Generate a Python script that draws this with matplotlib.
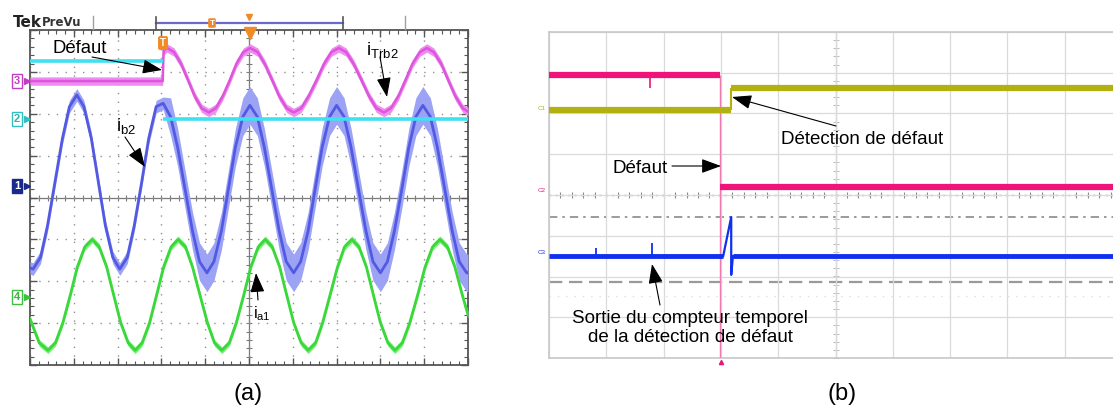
import matplotlib
matplotlib.use('Agg')
import matplotlib.pyplot as plt
import numpy as np

plt.rcParams['font.family'] = ['Liberation Sans', 'DejaVu Sans']
plt.rcParams['mathtext.fontset'] = 'custom'
plt.rcParams['mathtext.rm'] = 'Liberation Sans'

W, H, DPI = 1113, 412, 100

# ---------------- Panel (a) data (oscilloscope divisions) ----------------
fault_a = 3.04
cyan_levels = [3.26, 1.87]          # before / after fault

mag_x = [0.0, 3.03, 3.05, 3.13, 3.29, 3.45, 3.61, 3.76, 3.92, 4.08, 4.24, 4.40, 4.56, 4.71,
         4.87, 5.03, 5.20, 5.36, 5.53, 5.69, 5.86, 6.02, 6.19, 6.36, 6.54, 6.71, 6.88, 7.05,
         7.22, 7.39, 7.57, 7.74, 7.91, 8.08, 8.24, 8.41, 8.57, 8.73, 8.90, 9.06, 9.22, 9.39,
         9.55, 9.71, 9.88, 10.0]
mag_y = [2.78, 2.78, 3.50, 3.57, 3.47, 3.19, 2.80, 2.42, 2.13, 2.03, 2.13, 2.42, 2.80, 3.19,
         3.47, 3.57, 3.47, 3.19, 2.80, 2.42, 2.13, 2.03, 2.13, 2.42, 2.80, 3.19, 3.47, 3.57,
         3.47, 3.19, 2.80, 2.42, 2.13, 2.03, 2.13, 2.42, 2.80, 3.19, 3.47, 3.57, 3.47, 3.19,
         2.80, 2.42, 2.13, 2.05]

blue_x = [0.0, 0.07, 0.24, 0.40, 0.57, 0.74, 0.90, 1.07, 1.23, 1.40, 1.56, 1.72, 1.89, 2.05,
          2.22, 2.38, 2.55, 2.71, 2.88, 3.04, 3.21, 3.37, 3.54, 3.71, 3.87, 4.04, 4.20, 4.37,
          4.53, 4.69, 4.86, 5.02, 5.19, 5.35, 5.52, 5.69, 5.85, 6.02, 6.18, 6.35, 6.51, 6.67,
          6.84, 7.00, 7.17, 7.33, 7.50, 7.67, 7.83, 8.00, 8.16, 8.32, 8.49, 8.65, 8.81, 8.97,
          9.14, 9.30, 9.47, 9.64, 9.80, 9.97, 10.0]
blue_y = [-1.68, -1.71, -1.43, -0.67, 0.37, 1.41, 2.17, 2.45, 2.17, 1.41, 0.37, -0.67, -1.43, -1.71,
          -1.43, -0.67, 0.37, 1.41, 2.17, 2.25, 1.93, 1.20, 0.20, -0.80, -1.53, -1.80, -1.53, -0.80,
          0.20, 1.20, 1.93, 2.20, 1.93, 1.20, 0.20, -0.80, -1.53, -1.80, -1.53, -0.80, 0.20, 1.20,
          1.93, 2.20, 1.93, 1.20, 0.20, -0.80, -1.53, -1.80, -1.53, -0.80, 0.20, 1.20, 1.93, 2.20,
          1.93, 1.20, 0.20, -0.80, -1.53, -1.80, -1.80]

green_x = [0.0, 0.21, 0.41, 0.58, 0.75, 0.92, 1.08, 1.25, 1.42, 1.58, 1.75, 1.91, 2.07, 2.24,
           2.40, 2.56, 2.73, 2.89, 3.05, 3.22, 3.38, 3.55, 3.71, 3.88, 4.05, 4.21, 4.38, 4.55,
           4.71, 4.88, 5.04, 5.21, 5.37, 5.53, 5.70, 5.86, 6.02, 6.19, 6.35, 6.52, 6.68, 6.85,
           7.02, 7.18, 7.35, 7.51, 7.68, 7.84, 8.00, 8.17, 8.33, 8.50, 8.67, 8.85, 9.02, 9.19,
           9.36, 9.53, 9.70, 9.87, 10.0]
green_y = [-2.90, -3.47, -3.65, -3.47, -2.99, -2.33, -1.66, -1.18, -1.00, -1.18, -1.66, -2.33, -2.99, -3.47,
           -3.65, -3.47, -2.99, -2.33, -1.66, -1.18, -1.00, -1.18, -1.66, -2.33, -2.99, -3.47, -3.65, -3.47,
           -2.99, -2.33, -1.66, -1.18, -1.00, -1.18, -1.66, -2.33, -2.99, -3.47, -3.65, -3.47, -2.99, -2.33,
           -1.66, -1.18, -1.00, -1.18, -1.66, -2.33, -2.99, -3.47, -3.65, -3.47, -2.99, -2.33, -1.66, -1.18,
           -1.00, -1.18, -1.66, -2.33, -2.80]

# ---------------- Panel (b) data ----------------
pink_fault = 2.98
pink_levels = [2.94, 0.20]            # before / after fault
pink_spike_x = [1.76]
pink_spike_tip = [2.63]
olive_step = 3.18
olive_levels = [2.09, 2.63]
blue_level = -1.50
blue_spike_x = [0.82, 1.80]
blue_spike_tip = [-1.30, -1.19]
burst_x = [3.04, 3.18, 3.18, 3.21]
burst_y = [-1.50, -0.54, -1.96, -1.50]
ref_dashdot = -0.54
ref_dashed = -2.13
ref_dotted = -2.48

fig = plt.figure(figsize=(W / DPI, H / DPI), dpi=DPI)
fig.patch.set_facecolor('white')


def px_axes(l, t, r, b):
    return fig.add_axes([l / W, 1 - b / H, (r - l) / W, (b - t) / H])


axA = px_axes(30, 30, 468, 365)
axB = px_axes(549, 32, 1122, 358)
minor = np.arange(0, 10.001, 0.2)
minor_y = np.arange(-4, 4.001, 0.2)

for ax in (axA, axB):
    ax.set_xlim(0, 10)
    ax.set_ylim(-4, 4)
    ax.set_xticks(np.arange(0, 11, 1))
    ax.set_yticks(np.arange(-4, 5, 1))
    ax.tick_params(labelbottom=False, labelleft=False)

# ---- style (a)
axA.set_xticks(minor, minor=True)
axA.set_yticks(minor_y, minor=True)
axA.tick_params(which='both', direction='in', top=True, right=True, color='#555555')
axA.tick_params(which='major', length=5, width=1)
axA.tick_params(which='minor', length=3, width=0.8)
for s in axA.spines.values():
    s.set_color('#555555')
    s.set_linewidth(1.3)
axA.grid(which='major', color='#909090', lw=1.0, linestyle=(0, (1, 5.3)))
axA.axhline(0, color='#7a7a7a', lw=0.9, zorder=1)
axA.axvline(5, color='#7a7a7a', lw=0.9, zorder=1)
axA.plot(minor, np.zeros_like(minor), '|', ms=5, mew=0.8, color='#7a7a7a', zorder=1)
axA.plot(np.full_like(minor_y, 5), minor_y, '_', ms=5, mew=0.8, color='#7a7a7a', zorder=1)

# traces (a)
mx, my = np.array(mag_x), np.array(mag_y)
axA.fill_between(mx, my - 0.10, my + 0.10, color='#ef8cef', lw=0, zorder=3)
axA.plot(mx, my, color='#dc55dc', lw=1.8, zorder=3)

bx, by = np.array(blue_x), np.array(blue_y)
hb = np.where(bx <= fault_a, 0.15, 0.45)
axA.fill_between(bx, by - hb, by + hb, color='#9ca2f4', lw=0, zorder=4)
axA.plot(bx, by, color='#525ae3', lw=2.0, zorder=4)

gx, gy = np.array(green_x), np.array(green_y)
axA.fill_between(gx, gy - 0.08, gy + 0.08, color='#7df07d', lw=0, zorder=4)
axA.plot(gx, gy, color='#3ad83a', lw=2.0, zorder=4)

axA.hlines(cyan_levels[0], 0, fault_a, color='#3fe0f0', lw=2.6, zorder=5)
axA.hlines(cyan_levels[1], fault_a, 10, color='#3fe0f0', lw=2.6, zorder=5)

# ---- style (b)
axB.tick_params(length=0)
for s in axB.spines.values():
    s.set_color('#c8c8c8')
    s.set_linewidth(1.2)
axB.grid(which='major', color='#dadada', lw=0.9)
axB.axvline(5, color='#bdbdbd', lw=0.9, zorder=1)
axB.plot(np.full_like(minor_y, 5), minor_y, '_', ms=4, mew=0.7, color='#bdbdbd', zorder=1)
axB.axhline(0, color='#8a8a8a', lw=1.0, linestyle=(0, (1.5, 3)), zorder=1)
axB.plot(minor, np.zeros_like(minor), '|', ms=4, mew=0.8, color='#8a8a8a', zorder=1)
axB.axhline(ref_dashdot, color='#8a8a8a', lw=1.2, linestyle=(0, (5, 3, 1.5, 3)), zorder=1)
axB.axhline(ref_dashed, color='#9a9a9a', lw=1.6, linestyle=(0, (6, 3)), zorder=1)
axB.axhline(ref_dotted, color='#dddddd', lw=1.0, linestyle=(0, (1, 5)), zorder=1)

pink = '#f01478'
axB.vlines(pink_fault, -4, pink_levels[0], color='#f07ab0', lw=1.0, zorder=3)
axB.hlines(pink_levels[0], 0, pink_fault, color=pink, lw=4.5, zorder=4)
axB.hlines(pink_levels[1], pink_fault, 10, color=pink, lw=4.5, zorder=4)
axB.vlines(pink_spike_x, pink_spike_tip, pink_levels[0], color=pink, lw=1.2, zorder=4)

olive = '#b3b012'
axB.hlines(olive_levels[0], 0, olive_step, color=olive, lw=4.5, zorder=4)
axB.hlines(olive_levels[1], olive_step, 10, color=olive, lw=4.5, zorder=4)
axB.vlines(olive_step, olive_levels[0], olive_levels[1], color=olive, lw=1.5, zorder=4)

blue = '#1030f0'
axB.hlines(blue_level, 0, burst_x[0], color=blue, lw=3.5, zorder=5)
axB.hlines(blue_level, burst_x[-1], 10, color=blue, lw=3.5, zorder=5)
axB.vlines(blue_spike_x, blue_level, blue_spike_tip, color=blue, lw=1.3, zorder=5)
axB.plot(burst_x, burst_y, color=blue, lw=1.6, zorder=6)

# ---------------- overlay (pixel coordinates) ----------------
ov = fig.add_axes([0, 0, 1, 1], zorder=10)
ov.set_xlim(0, W)
ov.set_ylim(H, 0)
ov.axis('off')
ov.patch.set_alpha(0)

# header of (a)
ov.text(13, 22, 'Tek', fontsize=11, fontweight='bold', family='DejaVu Sans', va='center', color='#222222')
ov.text(42, 22, 'PreVu', fontsize=8.5, fontweight='bold', family='DejaVu Sans', va='center', color='#333333')
for xv in (93, 405):
    ov.plot([xv, xv], [16, 29], color='#a0a0a0', lw=1)
ov.plot([156, 343], [23, 23], color='#6a6ac8', lw=1.6)
for xv in (156, 343):
    ov.plot([xv, xv], [17, 29], color='#555555', lw=1.2)
ov.text(212, 23, 'T', fontsize=6, color='white', ha='center', va='center', fontweight='bold',
        bbox=dict(boxstyle='round,pad=0.15', fc='#f08a24', ec='none'))
ov.plot([249], [17], marker='v', ms=4, color='#f08a24')
ov.plot([250], [33], marker='v', ms=8, color='#f08a24')
ov.text(163, 43, 'T', fontsize=7, color='white', ha='center', va='center', fontweight='bold',
        bbox=dict(boxstyle='round,pad=0.2', fc='#f08a24', ec='none'))

# channel markers (a)
for lab, yy, col, fc, tc in [('3', 81, '#c040c0', 'white', '#c040c0'),
                             ('2', 119, '#30c0c0', 'white', '#30b0b0'),
                             ('1', 186, '#1a2a8a', '#1a2a8a', 'white'),
                             ('4', 297, '#40c040', 'white', '#40b040')]:
    ov.text(17, yy, lab, fontsize=8, color=tc, ha='center', va='center', fontweight='bold',
            bbox=dict(boxstyle='square,pad=0.15', fc=fc, ec=col, lw=1))
    ov.plot([26.5], [yy], marker='>', ms=4, color=col)

# channel markers (b)
ov.text(542, 108, 'C1', fontsize=4.5, color=olive, ha='center', va='center')
ov.text(542, 190, 'C2', fontsize=4.5, color=pink, ha='center', va='center')
ov.text(542, 252, 'C3', fontsize=4.5, color=blue, ha='center', va='center')
ov.plot([721], [362], marker='^', ms=3, color=pink)

arrow = dict(arrowstyle='-|>,head_length=0.6,head_width=0.22', color='black', lw=0.8,
             shrinkA=0, shrinkB=0, mutation_scale=20)

# labels (a)
ov.text(52, 48, 'Défaut', fontsize=13.3, va='center', ha='left')
ov.annotate('', xy=(162, 70), xytext=(92, 57), arrowprops=arrow)
ov.text(366, 55, r'$\mathregular{i_{Trb2}}$', fontsize=13.5, va='baseline', ha='left')
ov.annotate('', xy=(387, 97), xytext=(380, 57), arrowprops=arrow)
ov.text(116, 131, r'$\mathregular{i_{b2}}$', fontsize=13.5, va='baseline', ha='left')
ov.annotate('', xy=(145, 167), xytext=(125, 137), arrowprops=arrow)
ov.text(253, 318, r'$\mathregular{i_{a1}}$', fontsize=11.5, va='baseline', ha='left')
ov.annotate('', xy=(256, 273), xytext=(258, 300), arrowprops=arrow)

# labels (b)
ov.text(781, 140, 'Détection de défaut', fontsize=13.5, va='center', ha='left')
ov.annotate('', xy=(732, 97), xytext=(836, 126), arrowprops=arrow)
ov.text(612, 168, 'Défaut', fontsize=13.5, va='center', ha='left')
ov.annotate('', xy=(721, 166), xytext=(672, 166), arrowprops=arrow)
ov.text(690, 328, 'Sortie du compteur temporel\nde la détection de défaut', fontsize=13.5,
        va='center', ha='center', multialignment='center', linespacing=1.1)
ov.annotate('', xy=(652, 264), xytext=(660, 305), arrowprops=arrow)

ov.text(248, 394, '(a)', fontsize=17, ha='center', va='center')
ov.text(842, 394, '(b)', fontsize=17, ha='center', va='center')

fig.savefig('out.png', dpi=DPI, facecolor='white')
